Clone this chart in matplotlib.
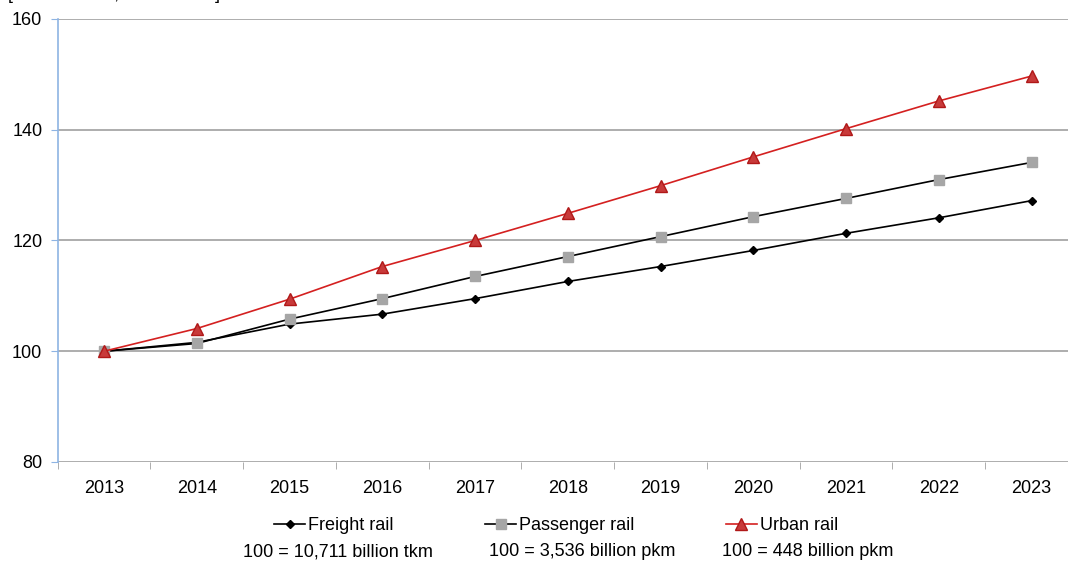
import matplotlib
matplotlib.use("Agg")
import matplotlib.pyplot as plt

plt.rcParams['font.family'] = ['Liberation Sans', 'DejaVu Sans']

# data (index, 2013 = 100)
years = ['2013', '2014', '2015', '2016', '2017', '2018', '2019', '2020', '2021', '2022', '2023']
freight = [100, 101.6, 104.9, 106.7, 109.5, 112.6, 115.3, 118.2, 121.3, 124.1, 127.2]
passenger = [100, 101.4, 105.8, 109.5, 113.5, 117.1, 120.7, 124.3, 127.6, 131.0, 134.1]
urban = [100, 104.1, 109.4, 115.3, 120.0, 124.9, 129.9, 135.1, 140.2, 145.2, 149.7]
base_notes = ['100 = 10,711 billion tkm', '100 = 3,536 billion pkm', '100 = 448 billion pkm']

W, H = 1068, 563
fig = plt.figure(figsize=(W / 100, H / 100), dpi=100)
# axes runs a little past the right edge, like the original
left, right, top, bottom = 57.6, 1078, 19, 462
ax = fig.add_axes([left / W, 1 - bottom / H, (right - left) / W, (bottom - top) / H])

x = list(range(len(years)))
ax.plot(x, freight, color='black', lw=1.2, marker='D', ms=4.5,
        mfc='black', mec='black', label='Freight rail', clip_on=False)
ax.plot(x, passenger, color='black', lw=1.2, marker='s', ms=7,
        mfc='#a6a6a6', mec='#a6a6a6', label='Passenger rail', clip_on=False)
ax.plot(x, urban, color='#d42020', lw=1.2, marker='^', ms=8,
        mfc='#c83a3a', mec='#b01818', label='Urban rail', clip_on=False)

ax.set_xlim(-0.5, len(years) - 0.5)
ax.set_ylim(80, 160)
ax.set_yticks([80, 100, 120, 140, 160])
ax.set_xticks(x)
ax.set_xticklabels(years)
ax.set_xticks([i - 0.5 for i in range(len(years) + 1)], minor=True)
ax.tick_params(axis='x', which='major', length=0, pad=13, labelsize=13)
ax.tick_params(axis='x', which='minor', length=5, color='#a0a0a0', direction='out')
ax.tick_params(axis='y', length=5, color='#8eb4e3', direction='out', pad=6, labelsize=13)

ax.grid(axis='y', color='#a0a0a0', lw=1.2)
ax.set_axisbelow(True)
for s in ['top', 'right', 'bottom']:
    ax.spines[s].set_visible(False)
ax.spines['left'].set_color('#8eb4e3')
ax.spines['left'].set_linewidth(1.2)

fig.legend(loc='center', bbox_to_anchor=(556 / W, 1 - 526 / H), ncol=3,
           frameon=False, fontsize=13, handlelength=1.7, handletextpad=0.15,
           columnspacing=5.1, borderpad=0, borderaxespad=0)
for cx, note in zip([338, 582, 808], base_notes):
    fig.text(cx / W, 1 - 552 / H, note, ha='center', va='center', fontsize=13)

# unit label, cut off at the top edge so only the bracket ends show
fig.text(8 / W, 1 + 1 / H, '[Index values, 2013 = 100]', ha='left', va='baseline', fontsize=13)

fig.savefig('out.png', dpi=100)
